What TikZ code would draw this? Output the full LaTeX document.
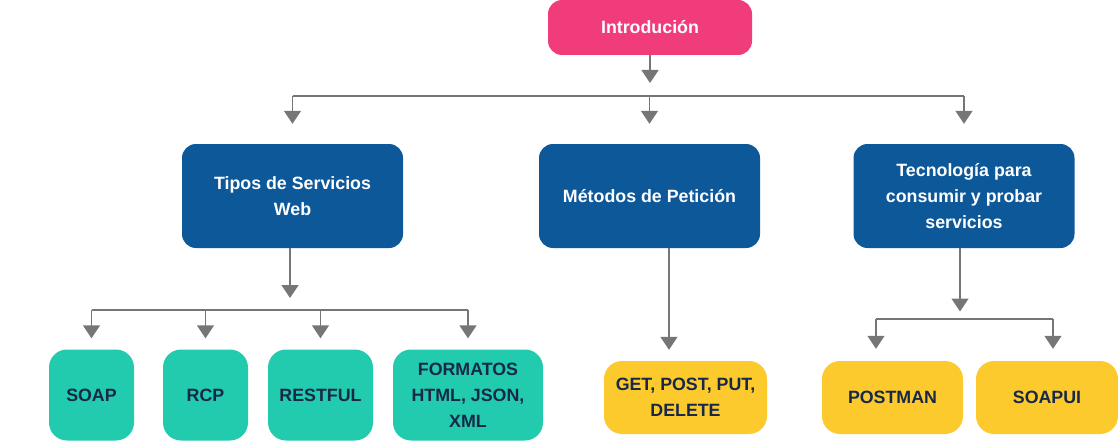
\documentclass[tikz,border=0pt]{standalone}
\usepackage{fontspec}
\setmainfont{Liberation Sans}
\usetikzlibrary{arrows.meta}
\definecolor{introink}{RGB}{240,60,122}
\definecolor{topicink}{RGB}{13,88,153}
\definecolor{leafteal}{RGB}{34,203,174}
\definecolor{leafgold}{RGB}{253,202,46}
\definecolor{leaftext}{RGB}{23,40,72}
\definecolor{linkgrey}{RGB}{118,118,118}

\begin{document}
\begin{tikzpicture}[x=1pt, y=-1pt,
  box/.style={rounded corners=14pt, align=center, inner sep=0pt,
    font=\bfseries\fontsize{17.8}{26}\selectfont},
  intro/.style={box, fill=introink, text=white, minimum width=204pt, minimum height=55pt},
  topic/.style={box, fill=topicink, text=white, minimum width=221pt, minimum height=104pt},
  leaf/.style={box, rounded corners=18pt, text=leaftext, minimum height=91pt},
  gold/.style={box, rounded corners=18pt, fill=leafgold, text=leaftext, minimum height=73pt},
  link/.style={draw=linkgrey, line width=1.4pt},
  arr/.style={link, -{Triangle[width=17pt,length=13pt]}}]
  \useasboundingbox (0,0) rectangle (1118,441);
  % level 0 and 1
  \node[intro] (intro) at (650,27.5) {Introdución};
  \node[topic] (tipos) at (292.5,196) {Tipos de Servicios\\Web};
  \node[topic] (metodos) at (649.5,196) {Métodos de Petición};
  \node[topic] (tecno) at (964,196) {Tecnología para\\consumir y probar\\servicios};
  % level 2
  \node[leaf, fill=leafteal, minimum width=85pt] (soap) at (91.5,395) {SOAP};
  \node[leaf, fill=leafteal, minimum width=85pt] (rcp) at (205.5,395) {RCP};
  \node[leaf, fill=leafteal, minimum width=105pt] (rest) at (320.5,395) {RESTFUL};
  \node[leaf, fill=leafteal, minimum width=150pt] (formatos) at (468,395) {FORMATOS\\HTML, JSON,\\XML};
  \node[gold, minimum width=163pt] (get) at (685.5,397.5) {GET, POST, PUT,\\DELETE};
  \node[gold, minimum width=141pt] (postman) at (892.5,397.5) {POSTMAN};
  \node[gold, minimum width=142pt] (soapui) at (1047,397.5) {SOAPUI};
  % intro branches
  \coordinate (introsplit) at (650,96);
  \draw[arr, shorten >=13pt] (intro.south) -- (introsplit);
  \draw[link] (tipos.north |- introsplit) -- (tecno.north |- introsplit);
  \foreach \t in {tipos, metodos, tecno}
    \draw[arr, shorten >=20pt] (\t.north |- introsplit) -- (\t.north);
  % tipos branches
  \coordinate (tiposplit) at (290,310);
  \draw[arr, shorten >=12pt] (tiposplit |- tipos.south) -- (tiposplit);
  \draw[link] (soap.north |- tiposplit) -- (formatos.north |- tiposplit);
  \foreach \t in {soap, rcp, rest, formatos}
    \draw[arr, shorten >=11pt] (\t.north |- tiposplit) -- (\t.north);
  % metodos
  \draw[arr, shorten >=11pt] ([xshift=19.5pt]metodos.south) -- ([xshift=-16.5pt]get.north);
  % tecno branches
  \coordinate (tecnosplit) at (960,319);
  \coordinate (postin) at (876,319);
  \coordinate (soapuiin) at (1053,319);
  \draw[arr, shorten >=7.5pt] (tecno.south -| tecnosplit) -- (tecnosplit);
  \draw[link] (postin) -- (soapuiin);
  \draw[arr, shorten >=12pt] (postin) -- (postin |- postman.north);
  \draw[arr, shorten >=12pt] (soapuiin) -- (soapuiin |- soapui.north);
\end{tikzpicture}
\end{document}
